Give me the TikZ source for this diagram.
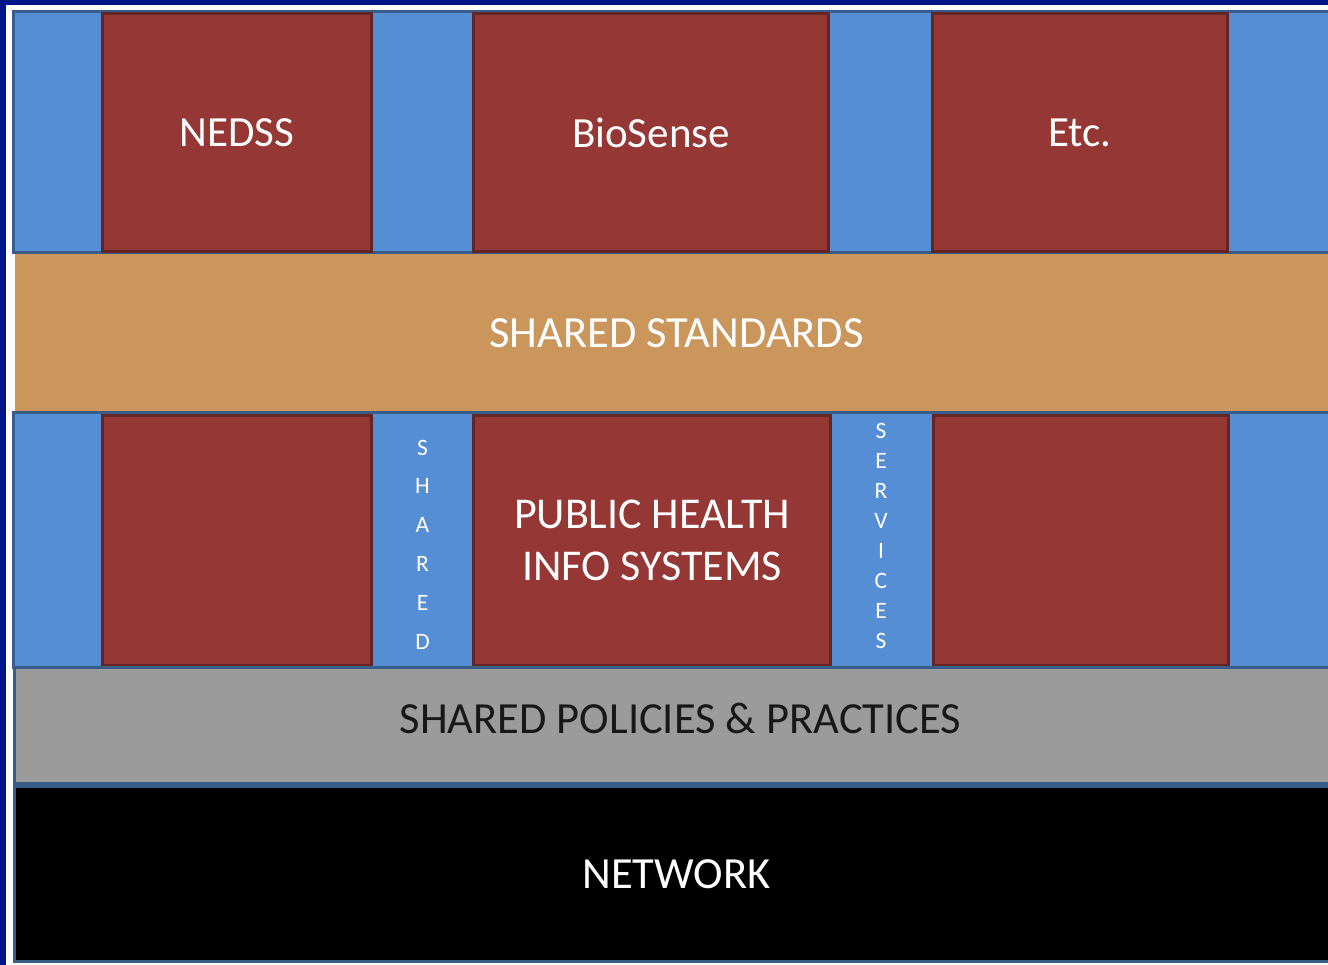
\documentclass[tikz,border=0pt]{standalone}
\usepackage{fontspec}
\setmainfont{Carlito}
\usetikzlibrary{positioning}

\definecolor{slidenavy}{RGB}{0,20,137}
\definecolor{paneblue}{RGB}{85,142,213}
\definecolor{edgeblue}{RGB}{56,93,138}
\definecolor{sysred}{RGB}{149,55,53}
\definecolor{sysedge}{RGB}{100,38,36}
\definecolor{stdorange}{RGB}{203,150,92}
\definecolor{polgray}{RGB}{155,155,155}
\definecolor{inkgray}{RGB}{24,24,24}

\tikzset{
  panel/.style = {fill=paneblue, draw=edgeblue, line width=3pt},
  sysbox/.style = {rectangle, fill=sysred, draw=sysedge, line width=3pt,
    inner sep=0pt, text=white, align=center,
    font=\fontsize{43}{52}\selectfont},
  band/.style = {rectangle, inner sep=0pt, minimum width=1324pt,
    text=white, font=\fontsize{44.5}{52}\selectfont},
  vtext/.style = {inner sep=0pt, text=white, align=center},
}

\begin{document}
\begin{tikzpicture}[x=1pt, y=-1pt]
    \useasboundingbox (0,0) rectangle (1328,965);
    \clip (0,0) rectangle (1328,965);
    \fill[slidenavy] (0,0) rectangle (1328,965);
    \fill[white] (6,5) rectangle (1340,970);

    % standards band sits under both rows
    \node[band, fill=stdorange, minimum height=160pt] (std) at (676.5,333) {SHARED STANDARDS};

    \draw[panel] (13,12) rectangle (1340,253);
    \draw[panel] (13,413) rectangle (1340,667);

    % top row
    \node[sysbox, minimum width=269pt, minimum height=238pt] (nedss) at (237,132.5) {NEDSS};
    \node[sysbox, minimum width=355pt, minimum height=238pt] (biosense) at (651,132.5) {BioSense};
    \node[sysbox, minimum width=295pt, minimum height=238pt] (etc) at (1080,132.5) {Etc.};

    % middle row
    \node[sysbox, minimum width=269pt, minimum height=250pt] (phleft) at (237,540.5) {};
    \node[sysbox, minimum width=357pt, minimum height=250pt, font=\fontsize{44}{52}\selectfont] (phis) at (652,540.5) {PUBLIC HEALTH\\INFO SYSTEMS};
    \node[sysbox, minimum width=295pt, minimum height=250pt] (phright) at (1081,540.5) {};

    \node[vtext, font=\fontsize{23.5}{38.8}\selectfont, yshift=-4pt] (shared) at (422.5,540.5) {S\\H\\A\\R\\E\\D};
    \node[vtext, font=\fontsize{23.5}{30}\selectfont, yshift=5pt] (services) at (881,540.5) {S\\E\\R\\V\\I\\C\\E\\S};

    % bottom bands
    \node[band, fill=polgray, draw=edgeblue, line width=3pt, minimum height=116pt] (pol) at (676.5,725.5) {};
    \node[band, minimum width=0pt, text=inkgray, yshift=7pt] (poltext) at (680.5,725.5) {SHARED POLICIES \& PRACTICES};
    \node[band, fill=black, draw=edgeblue, line width=3pt, minimum height=175pt] (net) at (676.5,874) {NETWORK};
\end{tikzpicture}
\end{document}
